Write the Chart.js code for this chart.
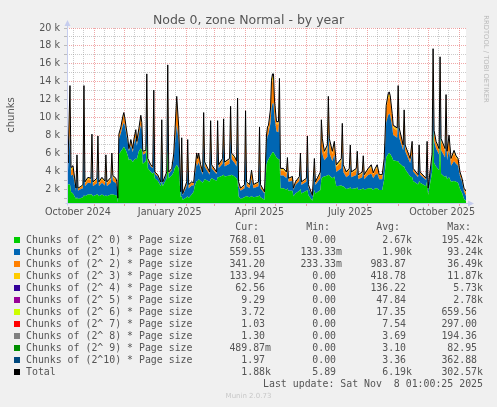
<!DOCTYPE html>
<html>
<head>
<meta charset="utf-8">
<title>Node 0, zone Normal - by year</title>
<script src="https://cdn.jsdelivr.net/npm/chart.js@4.4.1/dist/chart.umd.min.js"></script>
<style>
  html, body { margin: 0; padding: 0; }
  body {
    width: 497px; height: 407px; overflow: hidden; position: relative;
    background: #f0f0f0; color: #555;
    font-family: "DejaVu Sans", sans-serif;
  }
  #plot { position: absolute; left: 0; top: 0; }
  .txt { position: absolute; white-space: pre; }
  .mono { font-family: "DejaVu Sans Mono", monospace; font-size: 9.9px; line-height: 12px; height: 12px; }
  .sw { position: absolute; width: 6px; height: 6px; }
</style>
</head>
<body>
<canvas id="plot" width="497" height="225"></canvas>
<div class="txt" style="left:0; width:497px; top:13px; text-align:center; font-size:12.5px; line-height:14px;">Node 0, zone Normal - by year</div>
<div class="txt" style="left:-19px; top:108px; width:60px; text-align:center; font-size:10px; line-height:14px; transform:rotate(-90deg);">chunks</div>
<div class="txt" style="left:436px; top:54px; width:100px; text-align:center; font-size:6.8px; line-height:10px; color:#bbb; transform:rotate(90deg);">RRDTOOL / TOBI OETIKER</div>
<div id="legend"></div>
<div class="txt" style="left:0; width:497px; top:390px; text-align:center; font-size:7px; line-height:12px; color:#c8c8c8;">Munin 2.0.73</div>

<script>
"use strict";

// x = days since Oct 4 2024 (start of the 400 day window), values in thousands of chunks
const days = [0,1,3,4,6,9,10,11,14,16,17,18,21,24,25,26,30,31,32,35,38,39,40,44,45,46,49,50,51,
  52,54,56,57,58,59,61,62,63,64,66,67,69,70,72,74,75,76,79,80,81,84,86,87,88,91,94,95,96,100,101,102,105,107,108,110,112,114,115,116,120,121,122,125,127,
  128,130,131,132,134,136,137,138,143,144,145,150,151,152,156,157,158,163,164,165,168,170,171,
  172,174,178,179,180,183,185,187,192,193,194,198,
  200,201,202,204,205,206,207,208,210,212,213,
  214,217,220,221,222,226,227,229,233,234,235,240,241,242,246,248,249,254,255,256,258,261,262,263,266,268,270,275,276,277,280,283,284,285,290,291,292,296,297,298,302,305,307,309,311,313,316,
  318,320,322,323,324,326,327,331,332,333,337,338,339,
  344,346,347,352,353,354,360,361,362,366,
  367,368,370,373,374,375,379,380,381,383,385,388,390,392,394,396,398,400];

const pow0 = [3.0,2.6,2.6,1.8,1.6,1.0,1.2,1.0,1.1,1.2,1.4,1.3,1.5,1.5,1.5,1.3,1.5,1.5,1.3,1.5,1.3,1.4,1.3,1.5,1.5,1.5,1.4,1.3,0.6,
  5.9,6.3,6.6,6.8,6.6,6.4,5.8,5.3,5.4,5.4,5.1,5.3,5.5,5.4,6.3,6.6,6.4,4.9,5.2,7.2,4.4,4.0,3.8,4.0,3.3,3.0,2.4,2.9,2.4,3.3,6.4,3.3,3.6,4.0,4.4,4.8,4.4,1.2,1.3,0.9,1.2,1.3,1.1,1.5,1.8,
  2.4,3.0,3.0,3.2,3.0,2.8,3.0,3.2,2.9,3.2,3.3,3.0,3.4,3.4,3.6,3.7,3.5,3.6,3.6,3.7,3.5,3.3,3.0,
  1.3,1.0,1.2,1.3,1.3,1.2,1.3,1.2,1.3,1.4,1.2,0.9,
  4.8,5.2,5.4,5.8,6.0,6.2,6.2,6.0,5.6,5.4,5.4,
  2.2,2.2,2.0,2.2,1.9,1.9,1.3,1.6,1.9,2.1,1.6,1.9,2.0,1.4,0.8,2.0,1.6,2.0,3.2,3.4,3.5,3.6,3.7,3.6,3.3,3.5,2.4,2.5,2.4,2.4,2.1,2.2,2.3,2.1,2.2,2.3,2.0,2.1,2.2,2.0,2.2,2.2,2.0,2.2,2.2,2.0,2.0,
  3.2,5.6,6.0,6.1,6.0,5.6,5.3,5.2,5.2,5.0,4.6,4.6,4.3,
  3.5,3.4,3.0,2.6,3.0,2.8,2.4,3.0,1.4,4.0,
  8.7,5.0,4.6,4.2,8.3,3.8,3.4,3.6,3.2,3.4,2.9,3.0,2.9,2.8,2.1,1.7,1.0,0.77];

const pow1 = [1.9,1.6,5.8,1.8,2.1,0.9,2.6,0.9,1.0,1.0,6.0,1.1,1.3,1.25,3.5,1.1,1.25,3.4,1.1,1.3,1.2,2.4,1.1,1.3,2.5,1.5,1.35,1.1,0.4,
  1.7,2.0,2.6,2.7,2.5,2.1,1.4,1.0,1.2,1.6,1.1,1.7,2.3,1.5,1.8,2.6,2.3,1.0,0.9,4.2,0.8,0.6,0.6,4.8,0.5,0.5,0.35,3.8,0.35,0.5,5.0,0.5,0.6,1.4,2.4,4.4,2.9,0.45,3.3,0.5,1.2,3.2,1.05,1.0,0.7,
  1.1,2.0,1.7,1.9,1.3,0.9,4.2,1.4,0.8,3.6,1.1,0.75,3.5,1.0,1.3,3.5,1.1,1.3,4.3,1.7,1.5,1.3,5.0,
  1.1,0.9,1.0,4.9,1.1,1.0,1.9,1.0,1.1,4.0,1.0,0.7,
  2.4,2.8,2.8,3.6,5.0,5.4,5.4,4.0,2.9,3.0,5.0,
  1.4,1.4,1.3,2.1,1.0,1.1,0.7,0.95,1.1,2.3,0.95,1.0,3.2,0.9,0.45,2.0,0.95,1.3,3.6,2.6,1.8,2.1,4.8,2.5,1.9,2.4,1.6,1.9,3.9,1.6,1.3,1.45,2.6,1.3,1.45,2.3,1.2,1.3,2.1,1.2,1.45,1.6,1.3,1.45,1.6,1.2,1.2,
  1.6,3.9,4.3,4.4,4.3,3.4,2.8,2.6,4.8,2.8,1.8,3.6,2.0,
  1.5,2.6,1.05,0.8,2.4,0.9,0.7,2.6,0.6,1.5,
  4.6,2.4,2.0,1.7,4.3,2.6,2.2,4.8,2.1,3.0,1.8,2.2,2.0,1.9,1.4,1.2,0.85,0.56];

const pow2 = [0.6,0.5,4.4,0.6,0.7,0.2,1.7,0.2,0.2,0.3,5.4,0.35,0.4,0.4,2.7,0.35,0.4,2.6,0.35,0.4,0.35,1.7,0.35,0.4,1.7,0.4,0.4,0.35,0.1,
  0.4,0.5,0.7,0.8,0.6,0.5,0.35,0.2,0.3,0.45,0.3,0.45,0.7,0.35,0.5,0.8,0.6,0.3,0.2,2.9,0.2,0.15,0.15,3.7,0.15,0.15,0.1,2.7,0.1,0.15,3.9,0.15,0.15,0.45,1.0,2.7,1.4,0.1,2.8,0.15,0.35,2.7,0.3,0.3,0.2,
  0.35,0.8,0.6,0.75,0.35,0.2,2.9,0.35,0.2,2.5,0.3,0.18,2.4,0.3,0.45,2.3,0.35,0.45,2.9,0.5,0.5,0.45,3.6,
  0.35,0.2,0.3,4.0,0.35,0.3,0.75,0.3,0.35,3.2,0.3,0.15,
  0.7,0.75,0.75,1.2,2.5,2.6,2.6,1.6,0.8,0.9,3.4,
  0.55,0.55,0.5,0.95,0.3,0.35,0.15,0.25,0.35,1.35,0.25,0.3,2.4,0.22,0.1,1.1,0.25,0.5,2.55,1.35,0.75,0.95,3.35,1.25,0.8,1.1,0.55,0.8,2.6,0.55,0.45,0.55,1.7,0.45,0.55,1.35,0.35,0.45,1.15,0.35,0.55,0.7,0.45,0.55,0.7,0.35,0.35,
  0.5,1.5,1.9,1.9,1.7,1.15,0.8,0.8,3.1,0.8,0.45,2.25,0.5,
  0.35,1.05,0.25,0.2,1.25,0.2,0.15,1.45,0.15,0.35,
  3.75,0.9,0.6,0.5,3.55,1.0,0.75,3.6,0.75,1.35,0.6,0.9,0.65,0.6,0.35,0.3,0.25,0.34];

const pow3 = [0.3,0.2,0.6,0.2,0.2,0.1,0.3,0.1,0.1,0.1,0.6,0.1,0.15,0.1,0.4,0.1,0.1,0.4,0.1,0.15,0.1,0.3,0.1,0.15,0.3,0.15,0.1,0.1,0,
  0.15,0.15,0.2,0.2,0.2,0.15,0.1,0.07,0.07,0.1,0.07,0.1,0.15,0.1,0.15,0.2,0.15,0.07,0.07,0.45,0.07,0.03,0.03,0.45,0.03,0.03,0.03,0.3,0.03,0.03,0.45,0.03,0.03,0.1,0.2,0.35,0.2,0.03,0.3,0.03,0.1,0.3,0.1,0.07,0.07,
  0.1,0.2,0.15,0.18,0.1,0.07,0.35,0.1,0.07,0.3,0.07,0.05,0.3,0.07,0.1,0.3,0.1,0.1,0.35,0.15,0.15,0.1,0.45,
  0.1,0.07,0.07,0.45,0.1,0.07,0.18,0.07,0.1,0.3,0.07,0.03,
  0.15,0.18,0.18,0.3,0.5,0.5,0.5,0.3,0.2,0.2,0.45,
  0.18,0.18,0.15,0.25,0.07,0.1,0.03,0.07,0.1,0.25,0.07,0.07,0.3,0.05,0.03,0.3,0.07,0.15,0.35,0.25,0.18,0.25,0.4,0.25,0.2,0.3,0.18,0.2,0.35,0.18,0.1,0.14,0.3,0.1,0.14,0.25,0.1,0.1,0.25,0.1,0.14,0.2,0.1,0.14,0.2,0.1,0.1,
  0.15,0.3,0.35,0.35,0.35,0.25,0.2,0.2,0.35,0.2,0.1,0.35,0.15,
  0.1,0.25,0.07,0.07,0.25,0.07,0.03,0.25,0.03,0.1,
  0.45,0.2,0.15,0.15,0.45,0.2,0.18,0.45,0.18,0.25,0.15,0.2,0.18,0.15,0.1,0.07,0.07,0.13];

const pow4 = [0.1,0.1,0.2,0.1,0.1,0,0.1,0,0,0,0.2,0.05,0.05,0.05,0.1,0.05,0.05,0.1,0.05,0.05,0.05,0.1,0.05,0.05,0.1,0.05,0.05,0.05,0,
  0.05,0.05,0.1,0.1,0.1,0.05,0.05,0.03,0.03,0.05,0.03,0.05,0.05,0.05,0.05,0.1,0.05,0.03,0.03,0.15,0.03,0.02,0.02,0.15,0.02,0.02,0.02,0.1,0.02,0.02,0.15,0.02,0.02,0.05,0.1,0.15,0.1,0.02,0.1,0.02,0.05,0.1,0.05,0.03,0.03,
  0.05,0.1,0.05,0.07,0.05,0.03,0.15,0.05,0.03,0.1,0.03,0.02,0.1,0.03,0.05,0.1,0.05,0.05,0.15,0.05,0.05,0.05,0.15,
  0.05,0.03,0.03,0.15,0.05,0.03,0.07,0.03,0.05,0.1,0.03,0.02,
  0.05,0.07,0.07,0.1,0.2,0.2,0.2,0.1,0.1,0.1,0.15,
  0.07,0.07,0.05,0.1,0.03,0.05,0.02,0.03,0.05,0.1,0.03,0.03,0.1,0.03,0.02,0.1,0.03,0.05,0.1,0.1,0.07,0.1,0.15,0.1,0.1,0.1,0.07,0.1,0.15,0.07,0.05,0.06,0.1,0.05,0.06,0.1,0.05,0.05,0.1,0.05,0.06,0.1,0.05,0.06,0.1,0.05,0.05,
  0.05,0.1,0.15,0.15,0.15,0.1,0.1,0.1,0.15,0.1,0.05,0.1,0.05,
  0.05,0.1,0.03,0.03,0.1,0.03,0.02,0.1,0.02,0.05,
  0.2,0.1,0.05,0.05,0.2,0.1,0.07,0.15,0.07,0.1,0.05,0.1,0.07,0.05,0.05,0.03,0.03,0.06];

const yTicks = [1,2,3,4,5,6,7,8,9,10,11,12,13,14,15,16,17,18,19,20];
const monthLabels = ["October 2024", "January 2025", "April 2025", "July 2025", "October 2025"];

// legend table (munin prints all eleven orders plus the total)
const legendNames = ["Chunks of (2^ 0) * Page size", "Chunks of (2^ 1) * Page size", "Chunks of (2^ 2) * Page size",
  "Chunks of (2^ 3) * Page size", "Chunks of (2^ 4) * Page size", "Chunks of (2^ 5) * Page size",
  "Chunks of (2^ 6) * Page size", "Chunks of (2^ 7) * Page size", "Chunks of (2^ 8) * Page size",
  "Chunks of (2^ 9) * Page size", "Chunks of (2^10) * Page size", "Total"];
const legendColors = ["#00cc00", "#0066b3", "#ff8000", "#ffcc00", "#330099", "#990099",
  "#ccff00", "#ff0000", "#808080", "#008f00", "#00487d", "#000000"];
const legendCur = ["768.01 ", "559.55 ", "341.20 ", "133.94 ", "62.56 ", "9.29 ", "3.72 ", "1.03 ", "1.30 ", "489.87m", "1.97 ", "1.88k"];
const legendMin = ["0.00 ", "133.33m", "233.33m", "0.00 ", "0.00 ", "0.00 ", "0.00 ", "0.00 ", "0.00 ", "0.00 ", "0.00 ", "5.89 "];
const legendAvg = ["2.67k", "1.90k", "983.87 ", "418.78 ", "136.22 ", "47.84 ", "17.35 ", "7.54 ", "3.69 ", "3.10 ", "3.36 ", "6.19k"];
const legendMax = ["195.42k", "93.24k", "36.49k", "11.87k", "5.73k", "2.78k", "659.56 ", "297.00 ", "194.36 ", "82.95 ", "362.88 ", "302.57k"];

const startMs = Date.UTC(2024, 9, 4);
const dayOf = (y, m, d) => Math.round((Date.UTC(y, m, d) - startMs) / 86400000);

const majorDays = [];
const minorDays = [];
for (let i = 0; i < 14; i++) {
    const y = 2024 + Math.floor((9 + i) / 12);
    const m = (9 + i) % 12;
    [1, 11, 21].forEach(d => {
        const v = dayOf(y, m, d);
        if (v < 0 || v > 400) return;
        (d === 1 ? majorDays : minorDays).push(v);
    });
}
const labelDays = [dayOf(2024, 9, 15), dayOf(2025, 0, 15), dayOf(2025, 3, 15), dayOf(2025, 6, 15), dayOf(2025, 9, 15)];
const xTickDays = [...majorDays, ...minorDays, ...labelDays].sort((a, b) => a - b);

const MAJOR = "rgba(225,80,80,0.5)";
const MINOR = "rgba(140,140,140,0.45)";

const xGrid = (v) => majorDays.includes(v) ? MAJOR : (minorDays.includes(v) ? MINOR : "rgba(0,0,0,0)");

const layers = [pow0, pow1, pow2, pow3, pow4];
const datasets = layers.map((values, i) => ({
    label: legendNames[i],
    data: days.map((d, j) => ({ x: d, y: values[j] })),
    backgroundColor: legendColors[i],
    borderColor: "rgba(0,0,0,0)",
    borderWidth: 0,
    pointRadius: 0,
    fill: i === 0 ? "origin" : "-1",
    stack: "orders",
    order: 1,
}));
datasets.push({
    label: "Total",
    data: days.map((d, j) => ({ x: d, y: layers.reduce((s, l) => s + l[j], 0) })),
    borderColor: "#000000",
    borderWidth: 1,
    pointRadius: 0,
    fill: false,
    stack: "total",
    order: 0,
});

// white plot area plus rrdtool style axis lines with arrows
const frame = {
    id: "frame",
    beforeDraw(chart) {
        const a = chart.chartArea, c = chart.ctx;
        c.save();
        c.fillStyle = "#ffffff";
        c.fillRect(a.left, a.top, a.right - a.left, a.bottom - a.top);
        c.restore();
    },
    afterDraw(chart) {
        const a = chart.chartArea, c = chart.ctx;
        const x0 = Math.round(a.left) + 0.5, y0 = Math.round(a.bottom) + 0.5;
        c.save();
        c.strokeStyle = "#c6cdee";
        c.fillStyle = "#c6cdee";
        c.lineWidth = 1;
        c.beginPath();
        c.moveTo(x0, y0 + 2);
        c.lineTo(x0, a.top - 3);
        c.moveTo(x0 - 2, y0);
        c.lineTo(a.right + 3, y0);
        c.stroke();
        c.beginPath();
        c.moveTo(x0 - 3, a.top - 2);
        c.lineTo(x0 + 3, a.top - 2);
        c.lineTo(x0, a.top - 8);
        c.closePath();
        c.fill();
        c.beginPath();
        c.moveTo(a.right + 2, y0 - 3);
        c.lineTo(a.right + 2, y0 + 3);
        c.lineTo(a.right + 8, y0);
        c.closePath();
        c.fill();
        c.restore();
    },
};

const tickFont = { family: "DejaVu Sans", size: 9.6 };

new Chart(document.getElementById("plot"), {
    type: "line",
    data: { datasets },
    options: {
        responsive: false,
        animation: false,
        events: [],
        layout: { padding: { top: 28, right: 31, left: 0, bottom: 0 } },
        plugins: {
            legend: { display: false },
            tooltip: { enabled: false },
        },
        elements: { line: { tension: 0 } },
        scales: {
            x: {
                type: "linear",
                min: 0,
                max: 400,
                afterBuildTicks: (s) => { s.ticks = xTickDays.map(v => ({ value: v })); },
                afterFit: (s) => { s.height = 22; },
                grid: {
                    color: (c) => c.tick ? xGrid(c.tick.value) : "rgba(0,0,0,0)",
                    tickColor: (c) => c.tick && majorDays.includes(c.tick.value) ? MAJOR : "rgba(0,0,0,0)",
                    tickLength: 3,
                },
                border: { display: false, dash: [1, 1] },
                ticks: {
                    autoSkip: false,
                    maxRotation: 0,
                    padding: 1,
                    color: "#555",
                    font: tickFont,
                    callback: (v) => {
                        const k = labelDays.indexOf(v);
                        return k >= 0 ? monthLabels[k] : "";
                    },
                },
            },
            y: {
                stacked: true,
                min: 0.55,
                max: 20,
                afterBuildTicks: (s) => { s.ticks = yTicks.map(v => ({ value: v })); },
                afterFit: (s) => { s.width = 67; },
                grid: {
                    color: (c) => c.tick && c.tick.value % 2 === 0 ? MAJOR : MINOR,
                    tickColor: "#bbbbbb",
                    tickLength: 3,
                },
                border: { display: false, dash: [1, 1] },
                ticks: {
                    autoSkip: false,
                    padding: 4,
                    color: "#555",
                    font: tickFont,
                    callback: (v) => v % 2 === 0 ? v + " k" : "",
                },
            },
        },
    },
    plugins: [frame],
});

// legend table below the graph
const legend = document.getElementById("legend");
const addText = (text, left, right, yc) => {
    const el = document.createElement("div");
    el.className = "txt mono";
    el.textContent = text;
    el.style.top = (yc - 6) + "px";
    if (left !== null) el.style.left = left + "px";
    if (right !== null) el.style.right = (497 - right) + "px";
    legend.appendChild(el);
};

addText("Cur:", null, 259, 227);
addText("Min:", null, 330, 227);
addText("Avg:", null, 400, 227);
addText("Max:", null, 471, 227);

legendNames.forEach((name, i) => {
    const yc = 240 + 12 * i;
    const sw = document.createElement("div");
    sw.className = "sw";
    sw.style.left = "14px";
    sw.style.top = (yc - 3) + "px";
    sw.style.background = legendColors[i];
    legend.appendChild(sw);
    addText(name, 26, null, yc);
    addText(legendCur[i], null, 271, yc);
    addText(legendMin[i], null, 342, yc);
    addText(legendAvg[i], null, 412, yc);
    addText(legendMax[i], null, 483, yc);
});

addText("Last update: Sat Nov  8 01:00:25 2025", null, 483, 384);
</script>
</body>
</html>
